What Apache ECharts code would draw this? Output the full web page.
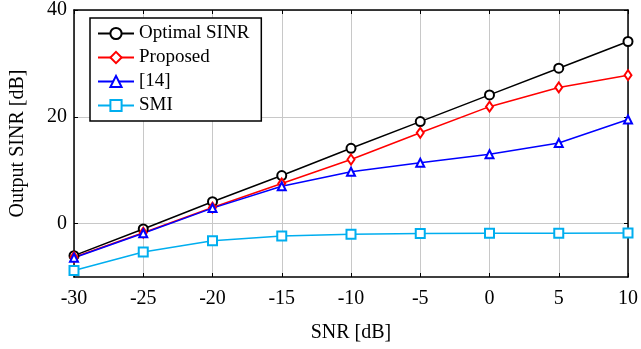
<!DOCTYPE html>
<html>
<head>
<meta charset="utf-8">
<script src="https://cdn.jsdelivr.net/npm/echarts@6/dist/echarts.min.js"></script>
<style>
  html, body { margin: 0; padding: 0; background: #fff; }
  #chart { width: 641px; height: 349px; }
</style>
</head>
<body>
<div id="chart"></div>
<script>
// SNR [dB] on the x axis
const snr = [-30, -25, -20, -15, -10, -5, 0, 5, 10]

// Output SINR [dB]
const optimalSinr = [-6.0, -1.0, 4.1, 9.0, 14.1, 19.1, 24.1, 29.1, 34.1]
const proposed = [-6.3, -1.7, 3.0, 7.5, 12.0, 17.0, 21.9, 25.5, 27.8]
const ref14 = [-6.4, -1.8, 2.9, 7.0, 9.7, 11.4, 13.0, 15.1, 19.5]
const smi = [-8.8, -5.3, -3.2, -2.3, -2.0, -1.85, -1.8, -1.8, -1.75]

const yTicks = [0, 20, 40]

const font = 'Liberation Serif'
const pairs = ys => snr.map((x, i) => [x, ys[i]])

const chart = echarts.init(document.getElementById('chart'))

function lineSeries(name, data, color, symbol, size) {
  return {
    name, type: 'line', data: pairs(data),
    symbol, symbolSize: size,
    lineStyle: { color, width: 1.5 },
    itemStyle: { color, borderWidth: 1.5 },
    z: 3
  }
}

const frameLine = { onZero: false, lineStyle: { color: '#000', width: 1.5 } }

chart.setOption({
  animation: false,
  backgroundColor: '#fff',
  grid: { left: 73, right: 11, top: 10, bottom: 72 },
  legend: {
    orient: 'vertical',
    left: 90, top: 18,
    backgroundColor: '#fff',
    borderColor: '#000', borderWidth: 1.5,
    padding: [6, 12, 6, 7],
    itemWidth: 36, itemHeight: 14, itemGap: 5,
    textStyle: { fontFamily: font, fontSize: 19, color: '#000' },
    data: ['Optimal SINR', 'Proposed', '[14]', 'SMI']
  },
  xAxis: [{
    type: 'value', min: -30, max: 10, interval: 5,
    name: 'SNR [dB]', nameLocation: 'middle', nameGap: 46,
    nameTextStyle: { fontFamily: font, fontSize: 20, color: '#000' },
    axisLine: frameLine,
    axisTick: { inside: true, length: 4, lineStyle: { color: '#000' } },
    axisLabel: { fontFamily: font, fontSize: 20, color: '#000', margin: 12 },
    splitLine: { show: true, lineStyle: { color: '#c8c8c8', width: 1 } }
  }, {
    type: 'value', min: -30, max: 10, interval: 5, position: 'top',
    axisLine: frameLine,
    axisTick: { inside: true, length: 4, lineStyle: { color: '#000' } },
    axisLabel: { show: false }, splitLine: { show: false }
  }],
  yAxis: [{
    type: 'value', min: -10, max: 40,
    name: 'Output SINR [dB]', nameLocation: 'middle', nameGap: 46,
    nameTextStyle: { fontFamily: font, fontSize: 20, color: '#000' },
    axisLine: { show: true, ...frameLine },
    axisTick: { show: true, inside: true, length: 4, customValues: yTicks, lineStyle: { color: '#000' } },
    axisLabel: { fontFamily: font, fontSize: 20, color: '#000', margin: 7, customValues: yTicks },
    splitLine: { show: true, lineStyle: { color: '#c8c8c8', width: 1 } }
  }, {
    type: 'value', min: -10, max: 40, position: 'right',
    axisLine: { show: true, ...frameLine },
    axisTick: { show: true, inside: true, length: 4, customValues: yTicks, lineStyle: { color: '#000' } },
    axisLabel: { show: false }, splitLine: { show: false }
  }],
  series: [
    lineSeries('Optimal SINR', optimalSinr, '#000000', 'emptyCircle', 9),
    lineSeries('Proposed', proposed, '#ff0000', 'emptyDiamond', [7, 10]),
    lineSeries('[14]', ref14, '#0000ff', 'emptyTriangle', 8),
    lineSeries('SMI', smi, '#00aeef', 'emptyRect', 9)
  ]
})
</script>
</body>
</html>
